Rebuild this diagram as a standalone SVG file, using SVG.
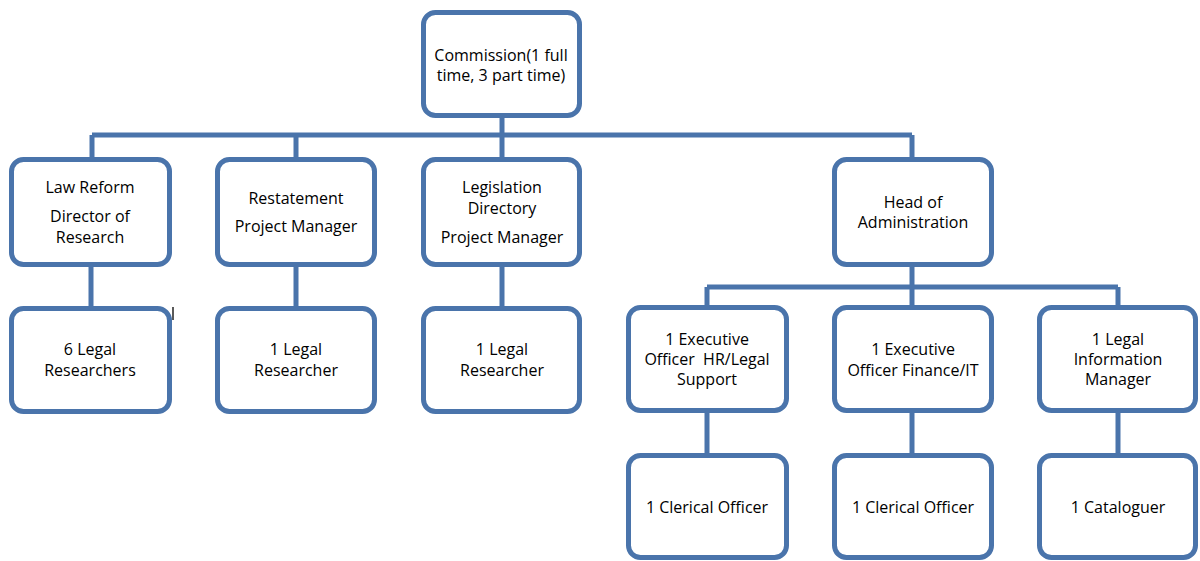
<svg xmlns="http://www.w3.org/2000/svg" width="1200" height="561" viewBox="0 0 1200 561">
<style>
.box{fill:#fff;stroke:#4a74ab;stroke-width:5}
.conn{fill:none;stroke:#4a74ab;stroke-width:5}
text{font-family:"Open Sans","Liberation Sans",Arial,sans-serif;font-size:16px;fill:#000;text-anchor:middle}
</style>
<rect width="1200" height="561" fill="#fff"/>
<g id="connectors">
<path class="conn" d="M502 116V135M92 135H912M92 135V159M296 135V159M502 135V159M912 135V159"/>
<path class="conn" d="M91 265V308M296 265V308M502 265V308"/>
<path class="conn" d="M912 265V287M707 287H1118M707 287V307M912 287V307M1118 287V307"/>
<path class="conn" d="M707 411V455M912 411V455M1118 411V455"/>
</g>
<g id="commission"><rect class="box" x="423.5" y="12.5" width="156" height="103" rx="12"/><text x="501" y="61">Commission(1 full</text><text x="501" y="81">time, 3 part time)</text></g>
<g id="law-reform"><rect class="box" x="11.5" y="159.5" width="158" height="105" rx="12"/><text x="90" y="193">Law Reform</text><text x="90" y="222">Director of</text><text x="90" y="243">Research</text></g>
<g id="restatement"><rect class="box" x="217.5" y="159.5" width="157" height="105" rx="12"/><text x="296" y="204">Restatement</text><text x="296" y="232">Project Manager</text></g>
<g id="legislation"><rect class="box" x="423.5" y="159.5" width="156" height="105" rx="12"/><text x="502" y="193">Legislation</text><text x="502" y="214">Directory</text><text x="502" y="243">Project Manager</text></g>
<g id="head-admin"><rect class="box" x="834.5" y="159.5" width="157" height="105" rx="12"/><text x="913" y="208">Head of</text><text x="913" y="228">Administration</text></g>
<g id="legal-researchers-6"><rect class="box" x="11.5" y="308.5" width="158" height="103" rx="12"/><text x="90" y="355">6 Legal</text><text x="90" y="376">Researchers</text></g>
<line x1="173" y1="307" x2="173" y2="320" stroke="#000" stroke-width="1.3"/>
<g id="legal-researcher-r"><rect class="box" x="217.5" y="308.5" width="157" height="103" rx="12"/><text x="296" y="355">1 Legal</text><text x="296" y="376">Researcher</text></g>
<g id="legal-researcher-l"><rect class="box" x="423.5" y="308.5" width="156" height="103" rx="12"/><text x="502" y="355">1 Legal</text><text x="502" y="376">Researcher</text></g>
<g id="exec-hr"><rect class="box" x="628.5" y="307.5" width="158" height="103" rx="12"/><text x="707" y="345">1 Executive</text><text x="707" y="365" style="white-space:pre">Officer  HR/Legal</text><text x="707" y="385">Support</text></g>
<g id="exec-fin"><rect class="box" x="834.5" y="307.5" width="157" height="103" rx="12"/><text x="913" y="355">1 Executive</text><text x="913" y="376">Officer Finance/IT</text></g>
<g id="legal-info"><rect class="box" x="1039.5" y="307.5" width="156" height="103" rx="12"/><text x="1118" y="345">1 Legal</text><text x="1118" y="365">Information</text><text x="1118" y="385">Manager</text></g>
<g id="clerical-1"><rect class="box" x="628.5" y="455.5" width="158" height="102" rx="12"/><text x="707" y="513">1 Clerical Officer</text></g>
<g id="clerical-2"><rect class="box" x="834.5" y="455.5" width="157" height="102" rx="12"/><text x="913" y="513">1 Clerical Officer</text></g>
<g id="cataloguer"><rect class="box" x="1039.5" y="455.5" width="156" height="102" rx="12"/><text x="1118" y="513">1 Cataloguer</text></g>
</svg>
